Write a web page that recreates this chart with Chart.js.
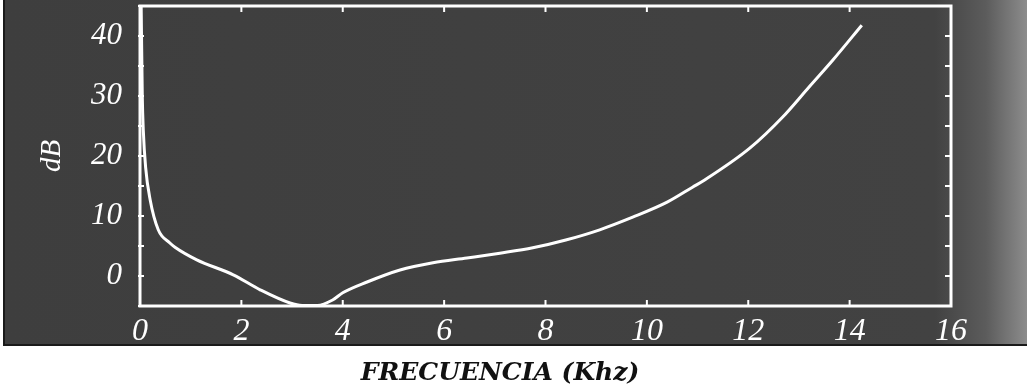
<!DOCTYPE html>
<html>
<head>
<meta charset="utf-8">
<script src="https://cdn.jsdelivr.net/npm/chart.js@4/dist/chart.umd.min.js"></script>
<style>
  html, body { margin: 0; padding: 0; background: #fff; }
  #wrap { width: 1033px; height: 388px; }
</style>
</head>
<body>
<div id="wrap"><canvas id="myChart" width="1033" height="388"></canvas></div>
<script>
// curve (kHz, dB)
var freq = [0.02, 0.045, 0.065, 0.11, 0.2, 0.36, 0.59, 0.69, 1.12, 1.84, 2.37, 2.96, 3.2, 3.5, 3.8, 4.0, 4.48, 5.13, 5.78, 6.45, 7.1, 7.75, 8.4, 9.07, 9.72, 10.4, 10.9, 11.14, 12.03, 12.68, 13.2, 13.67, 14.24];
var db   = [47, 30, 24.3, 18.2, 12.7, 7.7, 5.5, 4.8, 2.7, 0.2, -2.3, -4.5, -4.9, -4.9, -4, -2.8, -1, 1, 2.2, 3, 3.8, 4.7, 6, 7.7, 9.8, 12.3, 14.8, 16.0, 21.3, 26.5, 31.5, 36, 41.8];
var xTicks = [0, 2, 4, 6, 8, 10, 12, 14, 16];
var yLabels = [0, 10, 20, 30, 40];

var ctx = document.getElementById("myChart");

var points = freq.map(function(f, i){ return {x: f, y: db[i]}; });

// dark scanned panel behind everything
var panel = {
  id: 'panel',
  beforeDraw: function(chart){
    var c = chart.ctx;
    c.save();
    c.fillStyle = '#ffffff';
    c.fillRect(0, 0, chart.width, chart.height);
    var g = c.createLinearGradient(4, 0, 1027, 0);
    g.addColorStop(0, '#3e3e3e');
    g.addColorStop(0.91, '#424242');
    g.addColorStop(0.96, '#5c5c5c');
    g.addColorStop(1, '#8c8c8c');
    c.fillStyle = g;
    c.fillRect(4, 0, 1023, 346);
    c.fillStyle = '#1a1a1a';
    c.fillRect(3, 0, 2, 346);
    c.fillRect(4, 344, 1023, 2);
    c.restore();
  },
  afterDraw: function(chart){
    var c = chart.ctx;
    var a = chart.chartArea;
    var xs = chart.scales.x, ys = chart.scales.y;
    c.save();
    c.strokeStyle = '#ffffff';
    c.lineWidth = 3;
    c.strokeRect(a.left, a.top, a.right - a.left, a.bottom - a.top);
    c.lineWidth = 2;
    c.beginPath();
    xs.ticks.forEach(function(t){
      var px = xs.getPixelForValue(t.value);
      c.moveTo(px, a.bottom); c.lineTo(px, a.bottom - 6);
      c.moveTo(px, a.top); c.lineTo(px, a.top + 6);
    });
    ys.ticks.forEach(function(t){
      var py = ys.getPixelForValue(t.value);
      c.moveTo(a.left - 2, py); c.lineTo(a.left + 4, py);
      c.moveTo(a.right, py); c.lineTo(a.right - 6, py);
    });
    c.stroke();
    // axis title under the panel
    c.fillStyle = '#111111';
    c.font = 'italic bold 25px "DejaVu Serif"';
    c.textAlign = 'center';
    c.textBaseline = 'alphabetic';
    c.fillText('FRECUENCIA (Khz)', 500, 380);
    c.restore();
  }
};

new Chart(ctx, {
  type: 'scatter',
  data: {
    datasets: [{
      data: points,
      showLine: true,
      borderColor: '#ffffff',
      borderWidth: 3,
      pointRadius: 0,
      cubicInterpolationMode: 'monotone'
    }]
  },
  options: {
    responsive: false,
    animation: false,
    layout: { padding: { left: 0, top: 6, right: 82, bottom: 0 } },
    plugins: {
      legend: { display: false },
      tooltip: { enabled: false }
    },
    scales: {
      x: {
        type: 'linear',
        min: 0,
        max: 16,
        afterFit: function(scale){
          scale.height = 82;
          scale.paddingLeft = 0;
          scale.paddingRight = 0;
        },
        afterBuildTicks: function(scale){
          scale.ticks = xTicks.map(function(v){ return {value: v}; });
        },
        grid: { display: false },
        border: { display: false },
        ticks: {
          color: '#ffffff',
          padding: -2,
          maxRotation: 0,
          autoSkip: false,
          font: { family: '"Liberation Serif"', style: 'italic', size: 32 }
        }
      },
      y: {
        min: -5,
        max: 45,
        afterFit: function(scale){
          scale.width = 140;
          scale.paddingTop = 0;
          scale.paddingBottom = 0;
        },
        grid: { display: false },
        border: { display: false },
        title: {
          display: true,
          text: 'dB',
          color: '#ffffff',
          padding: { top: 35, bottom: 0 },
          font: { family: '"Liberation Serif"', style: 'italic', size: 29 }
        },
        ticks: {
          stepSize: 5,
          autoSkip: false,
          color: '#ffffff',
          padding: 10,
          font: { family: '"Liberation Serif"', style: 'italic', size: 31 },
          callback: function(v){
            return yLabels.indexOf(v) >= 0 ? String(v) : '';
          }
        }
      }
    }
  },
  plugins: [panel]
});
</script>
</body>
</html>
